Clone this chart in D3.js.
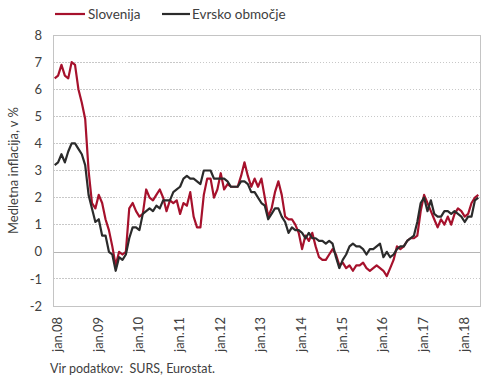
<!DOCTYPE html>
<html>
<head>
<meta charset="utf-8">
<script src="https://cdn.jsdelivr.net/npm/d3@7"></script>
<style>
  html, body { margin: 0; padding: 0; background: #fff; }
  svg { display: block; font-family: Lato, "Open Sans", sans-serif; }
</style>
</head>
<body>
<svg id="chart" width="490" height="381"></svg>
<script>
// ---- Data ----
const monthNames = ["jan","feb","mar","apr","maj","jun","jul","avg","sep","okt","nov","dec"];
const years = ["08","09","10","11","12","13","14","15","16","17","18"];
const lastYearMonths = 6; // data through jun.18

const tickLabels = ["jan.08","jan.09","jan.10","jan.11","jan.12","jan.13","jan.14","jan.15","jan.16","jan.17","jan.18"];
const yTicks = [-2,-1,0,1,2,3,4,5,6,7,8];

const slovenija = [
  6.4, 6.5, 6.9, 6.5, 6.4, 7.0, 6.9, 6.0, 5.5, 4.9, 3.0, 1.8,   // 2008
  1.6, 2.1, 1.8, 1.2, 0.8, 0.2, -0.5, 0.0, -0.1, 0.0, 1.6, 1.8,  // 2009
  1.5, 1.3, 1.4, 2.3, 2.0, 1.9, 2.1, 2.3, 2.0, 1.5, 1.9, 1.8,    // 2010
  1.9, 1.4, 1.8, 1.7, 2.2, 1.3, 0.9, 0.9, 2.1, 2.7, 2.7, 2.0,    // 2011
  2.3, 2.9, 2.3, 2.5, 2.4, 2.4, 2.4, 2.8, 3.3, 2.8, 2.4, 2.7,    // 2012
  2.4, 2.7, 2.0, 1.3, 1.6, 2.2, 2.6, 2.1, 1.3, 1.2, 1.2, 1.0,    // 2013
  0.7, 0.1, 0.6, 0.4, 0.7, 0.2, -0.2, -0.3, -0.3, -0.1, 0.1, -0.1, // 2014
  -0.5, -0.4, -0.6, -0.5, -0.7, -0.5, -0.5, -0.4, -0.6, -0.7, -0.6, -0.5, // 2015
  -0.6, -0.7, -0.9, -0.6, -0.3, 0.2, 0.1, 0.2, 0.4, 0.5, 0.5, 0.6, // 2016
  1.5, 2.1, 1.8, 1.5, 1.2, 0.9, 1.2, 1.0, 1.3, 1.0, 1.4, 1.6,    // 2017
  1.5, 1.3, 1.4, 1.8, 2.0, 2.1                                   // 2018
];

const evrsko = [
  3.2, 3.3, 3.6, 3.3, 3.7, 4.0, 4.0, 3.8, 3.6, 3.2, 2.1, 1.6,    // 2008
  1.1, 1.2, 0.6, 0.6, 0.0, -0.1, -0.7, -0.2, -0.3, -0.1, 0.5, 0.9, // 2009
  0.9, 0.8, 1.4, 1.5, 1.6, 1.5, 1.7, 1.6, 1.9, 1.9, 1.9, 2.2,    // 2010
  2.3, 2.4, 2.7, 2.8, 2.7, 2.7, 2.6, 2.5, 3.0, 3.0, 3.0, 2.7,    // 2011
  2.7, 2.7, 2.7, 2.6, 2.4, 2.4, 2.4, 2.6, 2.6, 2.5, 2.2, 2.2,    // 2012
  2.0, 1.8, 1.7, 1.2, 1.4, 1.6, 1.6, 1.3, 1.1, 0.7, 0.9, 0.8,    // 2013
  0.8, 0.7, 0.5, 0.7, 0.5, 0.5, 0.4, 0.4, 0.3, 0.4, 0.3, -0.2,   // 2014
  -0.6, -0.3, -0.1, 0.2, 0.3, 0.2, 0.2, 0.1, -0.1, 0.1, 0.1, 0.2, // 2015
  0.3, -0.2, 0.0, -0.2, -0.1, 0.1, 0.2, 0.2, 0.4, 0.5, 0.6, 1.1,  // 2016
  1.8, 2.0, 1.5, 1.9, 1.4, 1.3, 1.3, 1.5, 1.5, 1.4, 1.5, 1.4,    // 2017
  1.3, 1.1, 1.3, 1.3, 1.9, 2.0                                   // 2018
];

const seriesNames = ["Slovenija", "Evrsko območje"];
const seriesColors = ["#a6112c", "#2b2b2b"];
const sourceText = "Vir podatkov:  SURS, Eurostat.";
const yTitle = "Medletna inflacija, v %";

// categories
const categories = [];
years.forEach((y, yi) => {
  const n = yi === years.length - 1 ? lastYearMonths : 12;
  for (let m = 0; m < n; m++) categories.push(monthNames[m] + "." + y);
});

// ---- Layout ----
const svg = d3.select("#chart");
const plot = { left: 53, right: 480, top: 35, bottom: 306 };

const x = d3.scaleBand().domain(categories).range([plot.left, plot.right]).paddingInner(0).paddingOuter(0);
const y = d3.scaleLinear().domain([-2, 8]).range([plot.bottom, plot.top]);
const cx = c => x(c) + x.bandwidth() / 2;

// gridlines
svg.append("g")
  .selectAll("line")
  .data(yTicks.filter(t => t !== -2 && t !== 8 && t !== 0))
  .join("line")
  .attr("x1", plot.left).attr("x2", plot.right)
  .attr("y1", d => y(d)).attr("y2", d => y(d))
  .attr("stroke", "#c8c8c8")
  .attr("stroke-width", 1)
  .attr("stroke-dasharray", "1.5,1.5")
  .attr("shape-rendering", "crispEdges");

// zero line
svg.append("line")
  .attr("x1", plot.left).attr("x2", plot.right)
  .attr("y1", Math.round(y(0)) + 0.5).attr("y2", Math.round(y(0)) + 0.5)
  .attr("stroke", "#b5b5b5").attr("stroke-width", 1);

// plot border
svg.append("rect")
  .attr("x", plot.left + 0.5).attr("y", plot.top + 0.5)
  .attr("width", plot.right - plot.left).attr("height", plot.bottom - plot.top)
  .attr("fill", "none").attr("stroke", "#c4c4c4").attr("stroke-width", 1);

// y axis labels
const yAxis = d3.axisLeft(y).tickValues(yTicks).tickSize(0).tickPadding(0).tickFormat(d3.format("d"));
const yg = svg.append("g").attr("transform", `translate(${plot.left - 11},0)`).call(yAxis);
yg.select(".domain").remove();
yg.selectAll("text")
  .attr("font-family", "Lato, 'Open Sans', sans-serif")
  .attr("font-size", 13)
  .attr("fill", "#404040")
  .text(d => d < 0 ? "-" + Math.abs(d) : d);

// y title
svg.append("text")
  .attr("transform", `translate(17.5,${(plot.top + plot.bottom) / 2}) rotate(-90)`)
  .attr("text-anchor", "middle")
  .attr("font-size", 13)
  .attr("fill", "#404040")
  .text(yTitle);

// x axis labels
const xAxis = d3.axisBottom(x)
  .tickValues(categories.filter(c => tickLabels.includes(c)))
  .tickSize(0).tickPadding(0);
const xg = svg.append("g").attr("transform", `translate(0,${plot.bottom})`).call(xAxis);
xg.select(".domain").remove();
xg.selectAll("text")
  .attr("font-family", "Lato, 'Open Sans', sans-serif")
  .attr("font-size", 13)
  .attr("fill", "#404040")
  .attr("text-anchor", "end")
  .attr("dy", null)
  .attr("y", 0)
  .attr("transform", function(d) { return `translate(${x.bandwidth()/2 + 0.5},${11}) rotate(-90)`; })
  .attr("x", 0)
  .attr("dominant-baseline", "central");

// lines
const line = d3.line().x((d, i) => cx(categories[i])).y(d => y(d)).curve(d3.curveLinear);
[slovenija, evrsko].forEach((s, k) => {
  svg.append("path")
    .datum(s)
    .attr("d", line)
    .attr("fill", "none")
    .attr("stroke", seriesColors[k])
    .attr("stroke-width", 2.2)
    .attr("stroke-linejoin", "round");
});

// legend
const legendItems = [
  { name: seriesNames[0], color: seriesColors[0], x1: 55, x2: 85, tx: 88 },
  { name: seriesNames[1], color: seriesColors[1], x1: 162, x2: 190, tx: 192 }
];
const lg = svg.append("g");
legendItems.forEach(it => {
  lg.append("line").attr("x1", it.x1).attr("x2", it.x2).attr("y1", 14).attr("y2", 14)
    .attr("stroke", it.color).attr("stroke-width", 2.2);
  lg.append("text").attr("x", it.tx).attr("y", 18.5)
    .attr("font-size", 13.5).attr("fill", "#404040").text(it.name);
});

// source
svg.append("text")
  .attr("x", 50).attr("y", 373)
  .attr("font-size", 12.5)
  .attr("fill", "#404040")
  .style("white-space", "pre")
  .attr("xml:space", "preserve")
  .text(sourceText);
</script>
</body>
</html>
